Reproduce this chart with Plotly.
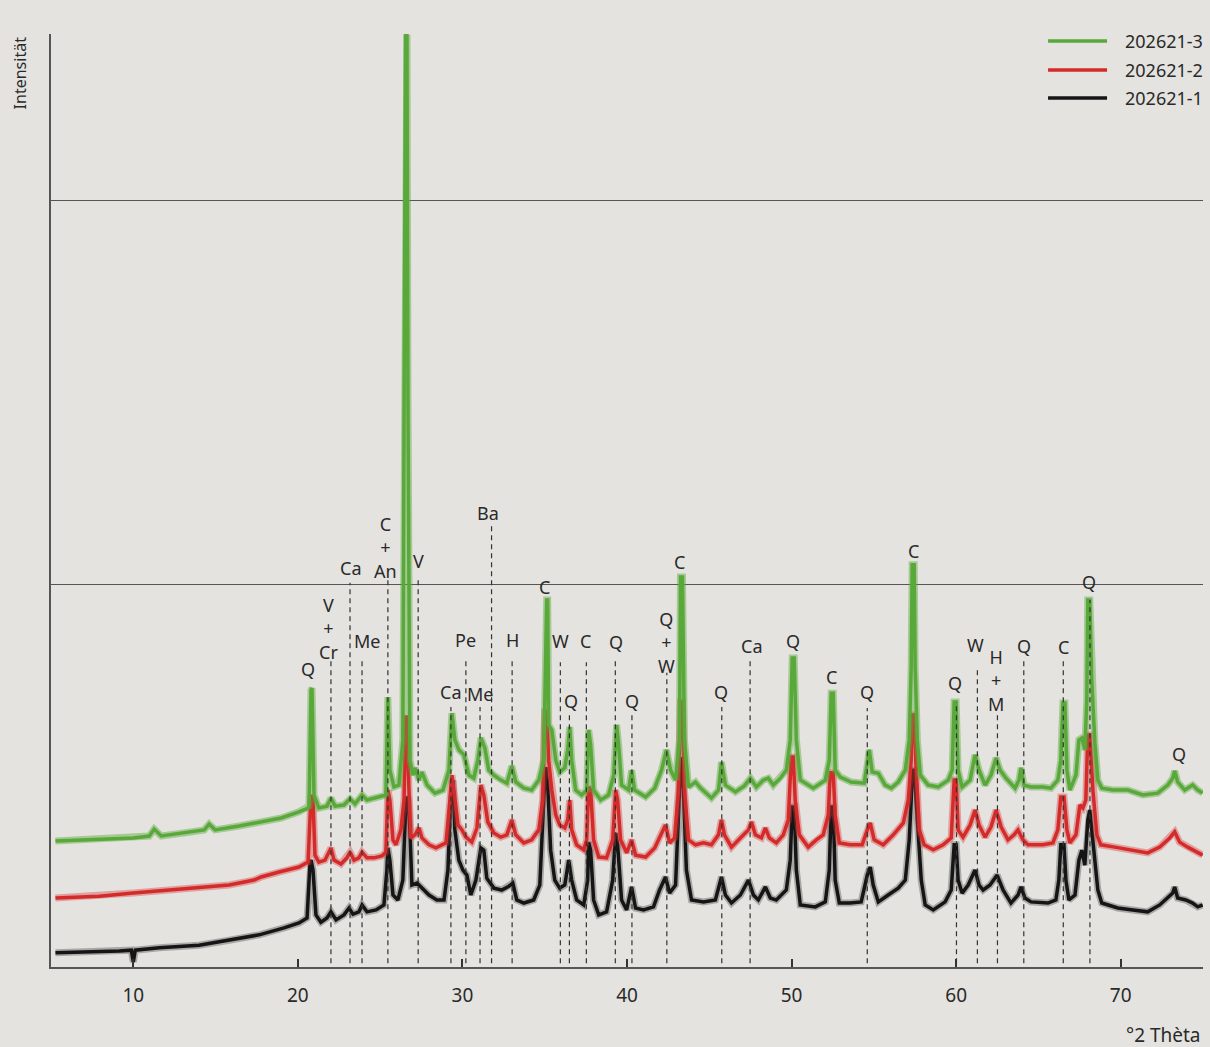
import plotly.graph_objects as go

# ---------------- data (2-theta in degrees, intensity in arbitrary counts) ----------------
two_theta_3 = [
    5.27, 7.94, 10.0, 10.97, 11.27, 11.70, 13.4, 14.31, 14.61, 14.97,
    16.43, 17.77, 18.98, 20.07, 20.62, 20.68, 20.80, 20.86, 20.98, 21.28,
    21.77, 22.01, 22.26, 22.80, 23.17, 23.47, 23.90, 24.20, 24.93, 25.35,
    25.47, 25.59, 25.84, 26.14, 26.38, 26.51, 26.54, 26.63, 26.69, 26.81,
    27.0, 27.12, 27.36, 27.54, 27.85, 28.33, 28.82, 29.18, 29.36, 29.54,
    29.78, 30.09, 30.39, 30.69, 30.94, 31.12, 31.36, 31.60, 31.91, 32.33,
    32.70, 33.0, 33.24, 33.73, 34.21, 34.64, 34.94, 35.12, 35.18, 35.24,
    35.43, 35.67, 35.91, 36.22, 36.40, 36.52, 36.64, 36.88, 37.25, 37.55,
    37.67, 37.79, 37.97, 38.40, 38.88, 39.19, 39.37, 39.49, 39.67, 40.10,
    40.28, 40.46, 41.13, 41.68, 42.10, 42.40, 42.65, 42.95, 43.19, 43.25,
    43.37, 43.49, 43.74, 44.16, 44.47, 45.13, 45.56, 45.74, 45.98, 46.59,
    47.13, 47.50, 47.86, 48.29, 48.59, 48.89, 49.32, 49.68, 49.92, 50.04,
    50.16, 50.29, 50.53, 51.32, 52.05, 52.29, 52.41, 52.53, 52.65, 52.96,
    53.62, 54.41, 54.60, 54.72, 54.90, 55.27, 55.69, 56.06, 56.48, 56.91,
    57.15, 57.27, 57.33, 57.45, 57.51, 57.64, 57.82, 58.30, 58.91, 59.52,
    59.76, 59.88, 60.0, 60.12, 60.36, 60.85, 61.15, 61.39, 61.76, 62.12,
    62.43, 62.67, 63.03, 63.58, 63.82, 63.94, 64.12, 64.55, 65.27, 65.76,
    66.18, 66.36, 66.49, 66.61, 66.73, 66.91, 67.28, 67.46, 67.64, 67.82,
    67.94, 68.0, 68.12, 68.24, 68.43, 68.61, 68.85, 69.52, 70.43, 71.34,
    72.25, 72.86, 73.16, 73.28, 73.46, 73.89, 74.37, 74.68, 74.98,
]
intensity_3 = [
    329, 334, 337, 342, 360, 342, 352, 358, 373, 358,
    368, 379, 389, 405, 415, 420, 723, 728, 449, 415,
    420, 441, 420, 423, 439, 426, 449, 436, 444, 449,
    705, 514, 470, 475, 593, 1742, 2434, 2434, 1480, 540,
    501, 520, 488, 509, 475, 454, 462, 514, 663, 593,
    567, 554, 501, 493, 540, 598, 572, 514, 501, 488,
    480, 525, 483, 467, 462, 488, 540, 958, 958, 632,
    619, 540, 509, 520, 567, 627, 540, 462, 449, 462,
    619, 580, 462, 436, 449, 501, 632, 580, 475, 462,
    514, 462, 444, 467, 514, 567, 514, 488, 593, 1018,
    1018, 593, 470, 483, 467, 441, 462, 535, 475, 457,
    473, 493, 470, 488, 493, 475, 493, 514, 593, 807,
    807, 593, 488, 467, 488, 540, 715, 715, 514, 496,
    483, 480, 527, 567, 509, 506, 475, 467, 483, 514,
    593, 783, 1050, 1050, 783, 593, 501, 475, 470, 488,
    514, 692, 692, 514, 470, 488, 554, 514, 475, 501,
    546, 514, 493, 467, 488, 520, 475, 470, 470, 467,
    488, 540, 689, 689, 514, 462, 501, 593, 598, 567,
    697, 958, 958, 749, 585, 488, 467, 462, 462, 449,
    454, 475, 493, 512, 483, 462, 475, 462, 454,
]

two_theta_2 = [
    5.27, 7.94, 10.0, 12.18, 14.0, 15.83, 17.34, 17.77, 18.86, 20.07,
    20.62, 20.74, 20.80, 20.92, 21.04, 21.28, 21.65, 22.01, 22.20, 22.62,
    22.98, 23.17, 23.41, 23.71, 23.90, 24.20, 24.63, 25.11, 25.35, 25.47,
    25.59, 25.78, 25.96, 26.26, 26.45, 26.57, 26.63, 26.75, 26.87, 27.12,
    27.36, 27.54, 27.97, 28.39, 29.0, 29.24, 29.36, 29.48, 29.73, 29.97,
    30.21, 30.57, 30.88, 31.12, 31.30, 31.54, 31.91, 32.33, 32.70, 33.0,
    33.24, 33.73, 34.21, 34.64, 34.88, 35.0, 35.12, 35.24, 35.43, 35.67,
    35.91, 36.22, 36.40, 36.52, 36.64, 36.94, 37.37, 37.55, 37.67, 37.79,
    37.97, 38.28, 38.76, 39.13, 39.31, 39.43, 39.61, 39.98, 40.28, 40.52,
    41.13, 41.68, 42.10, 42.34, 42.59, 42.89, 43.13, 43.25, 43.37, 43.49,
    43.74, 44.16, 44.65, 45.13, 45.56, 45.74, 45.92, 46.35, 46.89, 47.38,
    47.56, 47.80, 48.17, 48.41, 48.65, 49.07, 49.50, 49.80, 49.98, 50.10,
    50.22, 50.47, 51.01, 51.50, 51.92, 52.23, 52.35, 52.53, 52.65, 52.90,
    53.56, 54.29, 54.60, 54.78, 55.02, 55.57, 56.18, 56.79, 57.09, 57.27,
    57.33, 57.45, 57.57, 57.76, 58.06, 58.61, 59.21, 59.70, 59.88, 60.0,
    60.12, 60.42, 60.85, 61.15, 61.39, 61.76, 62.12, 62.43, 62.73, 63.15,
    63.52, 63.76, 64.06, 64.36, 65.27, 65.88, 66.18, 66.36, 66.55, 66.73,
    66.91, 67.28, 67.52, 67.70, 67.88, 68.0, 68.12, 68.31, 68.55, 68.79,
    69.64, 70.73, 71.64, 72.37, 72.98, 73.28, 73.58, 74.07, 74.68, 74.98,
]
intensity_2 = [
    180, 185, 193, 201, 206, 214, 227, 235, 248, 261,
    274, 436, 449, 436, 292, 274, 279, 311, 279, 269,
    285, 300, 279, 285, 300, 285, 285, 290, 300, 462,
    436, 332, 319, 358, 436, 653, 653, 462, 337, 345,
    363, 337, 319, 311, 324, 436, 501, 462, 371, 358,
    339, 326, 363, 475, 449, 379, 350, 339, 345, 384,
    345, 324, 332, 358, 436, 666, 666, 540, 462, 397,
    371, 363, 384, 436, 358, 319, 306, 332, 470, 462,
    332, 287, 285, 332, 462, 436, 332, 298, 332, 292,
    287, 311, 350, 371, 324, 337, 462, 692, 692, 462,
    332, 319, 324, 319, 345, 384, 345, 313, 337, 358,
    379, 345, 337, 363, 337, 324, 345, 384, 548, 548,
    436, 345, 313, 332, 345, 397, 507, 507, 397, 324,
    319, 319, 358, 376, 332, 319, 345, 376, 436, 540,
    658, 658, 514, 358, 319, 306, 319, 337, 488, 488,
    358, 339, 371, 410, 371, 339, 366, 410, 366, 332,
    345, 358, 332, 319, 319, 324, 358, 444, 444, 358,
    324, 345, 423, 415, 436, 606, 606, 462, 345, 319,
    313, 306, 298, 313, 337, 353, 326, 313, 300, 292,
]

two_theta_1 = [
    5.27, 7.33, 9.15, 9.88, 10.0, 10.12, 11.58, 14.0, 15.83, 17.65,
    19.16, 20.07, 20.56, 20.74, 20.80, 20.92, 21.10, 21.40, 21.77, 22.01,
    22.32, 22.80, 23.11, 23.35, 23.71, 23.90, 24.20, 24.75, 25.23, 25.41,
    25.47, 25.59, 25.78, 26.08, 26.38, 26.57, 26.69, 26.81, 26.93, 27.24,
    27.54, 27.97, 28.45, 28.88, 29.12, 29.30, 29.42, 29.54, 29.78, 30.03,
    30.27, 30.51, 30.82, 31.12, 31.30, 31.48, 31.91, 32.39, 32.82, 33.06,
    33.30, 33.73, 34.33, 34.70, 34.94, 35.06, 35.18, 35.36, 35.61, 35.91,
    36.22, 36.46, 36.64, 36.94, 37.37, 37.61, 37.67, 37.79, 37.97, 38.28,
    38.76, 39.13, 39.31, 39.43, 39.67, 39.98, 40.28, 40.52, 41.0, 41.61,
    41.98, 42.34, 42.59, 42.95, 43.19, 43.31, 43.43, 43.61, 43.92, 44.65,
    45.37, 45.74, 45.98, 46.35, 46.89, 47.38, 47.68, 47.98, 48.41, 48.71,
    49.07, 49.68, 49.92, 50.04, 50.16, 50.29, 50.53, 51.44, 52.05, 52.29,
    52.41, 52.53, 52.65, 52.90, 53.56, 54.23, 54.60, 54.78, 54.96, 55.27,
    55.87, 56.48, 56.91, 57.15, 57.27, 57.33, 57.45, 57.57, 57.70, 57.88,
    58.12, 58.61, 59.33, 59.70, 59.88, 60.0, 60.12, 60.36, 60.73, 61.15,
    61.39, 61.64, 62.06, 62.49, 62.85, 63.33, 63.76, 63.94, 64.18, 64.55,
    65.58, 66.06, 66.24, 66.36, 66.55, 66.67, 66.85, 67.22, 67.46, 67.64,
    67.82, 68.0, 68.12, 68.24, 68.43, 68.61, 68.85, 69.82, 70.73, 71.64,
    72.37, 72.86, 73.16, 73.28, 73.46, 73.95, 74.37, 74.68, 74.98,
]
intensity_1 = [
    37, 39, 42, 44, 13, 44, 50, 57, 70, 84,
    102, 115, 128, 274, 279, 253, 136, 117, 128, 144,
    123, 136, 154, 138, 144, 162, 144, 149, 162, 253,
    311, 279, 188, 175, 227, 436, 444, 358, 214, 219,
    206, 188, 175, 175, 253, 462, 488, 358, 279, 253,
    240, 188, 227, 311, 305, 232, 206, 201, 211, 219,
    175, 167, 175, 214, 436, 522, 475, 305, 227, 206,
    214, 279, 227, 175, 162, 227, 326, 305, 175, 136,
    144, 227, 350, 319, 175, 149, 209, 154, 149, 157,
    201, 235, 193, 214, 462, 548, 462, 253, 175, 170,
    175, 235, 188, 167, 188, 227, 188, 175, 209, 180,
    175, 201, 279, 418, 418, 253, 162, 157, 170, 253,
    418, 418, 227, 167, 167, 170, 240, 261, 214, 170,
    188, 206, 227, 332, 436, 514, 514, 436, 376, 227,
    162, 149, 170, 201, 319, 319, 227, 193, 214, 253,
    214, 201, 214, 240, 201, 167, 188, 209, 180, 170,
    167, 175, 227, 319, 319, 227, 175, 188, 279, 305,
    266, 384, 410, 358, 287, 201, 167, 154, 149, 144,
    162, 180, 193, 209, 180, 175, 167, 157, 162,
]

series_names = ["202621-1", "202621-2", "202621-3"]

# reference (dashed) lines: 2-theta position and top of line (intensity)
ref_line_theta = [22.01, 23.17, 23.90, 25.47, 27.31, 29.30, 30.21, 31.07, 31.77, 33.02,
                  35.95, 36.50, 37.53, 39.29, 40.30, 42.42, 45.76, 47.48, 54.60, 60.02,
                  61.29, 62.51, 64.11, 66.51, 68.13]
ref_line_top = [802, 1003, 807, 1018, 1018, 679, 802, 679, 1154, 802,
                796, 663, 796, 807, 663, 768, 679, 802, 676, 692,
                783, 666, 802, 802, 958]

# phase labels: text, 2-theta, intensity (centre of label)
label_text = ["Q", "V<br>+<br>Cr", "Ca", "Me", "C<br>+<br>An", "V", "Q", "Ca", "Pe", "Me",
              "Ba", "H", "C", "W", "Q", "C", "Q", "Q", "Q<br>+<br>W", "C",
              "Q", "Ca", "Q", "C", "Q", "C", "Q", "W", "H<br>+<br>M", "Q",
              "C", "Q", "Q"]
label_theta = [20.62, 21.89, 23.17, 24.20, 25.35, 27.35, 26.58, 29.30, 30.21, 31.07,
               31.55, 33.06, 35.0, 35.95, 36.58, 37.49, 39.31, 40.28, 42.40, 43.19,
               45.74, 47.55, 50.10, 52.41, 54.60, 57.39, 59.94, 61.15, 62.43, 64.12,
               66.55, 68.07, 73.53]
label_level = [778, 883, 1042, 851, 1094, 1060, 2473, 718, 854, 713,
               1185, 854, 992, 851, 695, 851, 849, 695, 846, 1057,
               718, 838, 851, 757, 718, 1086, 742, 841, 749, 838,
               836, 1005, 556]

# ---------------- figure ----------------
FONT = "Noto Sans, Open Sans, DejaVu Sans, sans-serif"
BG = "#e4e3df"
TXT = "#2a2a2a"

styles = [
    dict(x=two_theta_1, y=intensity_1, name=series_names[0], color="#151515", halo="rgba(95,95,95,0.45)"),
    dict(x=two_theta_2, y=intensity_2, name=series_names[1], color="#d42a2a", halo="rgba(214,60,60,0.40)"),
    dict(x=two_theta_3, y=intensity_3, name=series_names[2], color="#58a83a", halo="rgba(90,168,60,0.45)"),
]

fig = go.Figure()
for s in styles:
    fig.add_trace(go.Scatter(x=s["x"], y=s["y"], mode="lines", showlegend=False,
                             hoverinfo="skip", line=dict(color=s["halo"], width=7)))
    fig.add_trace(go.Scatter(x=s["x"], y=s["y"], mode="lines", name=s["name"],
                             showlegend=False, line=dict(color=s["color"], width=3.5)))

for xv, top in zip(ref_line_theta, ref_line_top):
    fig.add_shape(type="line", xref="x", yref="y", x0=xv, x1=xv, y0=10, y1=top,
                  line=dict(color="#333333", width=1.2, dash="5px,4px"), layer="above")

for txt, xv, yv in zip(label_text, label_theta, label_level):
    fig.add_annotation(x=xv, y=yv, xref="x", yref="y", text=txt, showarrow=False,
                       font=dict(family=FONT, size=18, color=TXT),
                       xanchor="center", yanchor="middle", borderpad=0)

# manual legend (top right), order: 202621-3, 202621-2, 202621-1
legend_rows_y = [0.9925, 0.9614, 0.9314]
for row_y, s in zip(legend_rows_y, styles[::-1]):
    fig.add_shape(type="line", xref="paper", yref="paper", x0=0.8655, x1=0.9167,
                  y0=row_y, y1=row_y, line=dict(color=s["color"], width=3.5))
    fig.add_annotation(text=s["name"], xref="paper", yref="paper", x=0.9306, y=row_y,
                       xanchor="left", yanchor="middle", showarrow=False,
                       font=dict(family=FONT, size=18, color=TXT))

fig.add_annotation(text="Intensität", xref="paper", yref="paper", x=-0.027, y=1.0,
                   textangle=-90, showarrow=False, xanchor="center", yanchor="top",
                   font=dict(family=FONT, size=16, color=TXT))
fig.add_annotation(text="°2 Thèta", xref="paper", yref="paper", x=0.999, y=-0.073,
                   showarrow=False, xanchor="right", yanchor="middle",
                   font=dict(family=FONT, size=19, color=TXT))

fig.update_layout(
    width=1210, height=1047,
    margin=dict(l=51, r=7, t=34, b=80),
    paper_bgcolor=BG, plot_bgcolor=BG,
    font=dict(family=FONT, size=18, color=TXT),
    showlegend=False,
    xaxis=dict(range=[5, 75], tickmode="array", tickvals=[10, 20, 30, 40, 50, 60, 70],
               ticks="inside", ticklen=8, tickwidth=1.5, tickcolor="#333333",
               showline=True, linecolor="#555555", linewidth=1.5, showgrid=False,
               zeroline=False, tickfont=dict(size=19, color=TXT), ticklabelstandoff=10),
    yaxis=dict(range=[0, 2436], tickmode="array", tickvals=[1000, 2000],
               showticklabels=False, ticks="", showgrid=True, gridcolor="#555555",
               gridwidth=1, showline=True, linecolor="#555555", linewidth=1.5,
               zeroline=False),
)

fig.write_html("out.html", config={"displayModeBar": False},
               post_script="document.body.style.margin='0px';"
                           "document.body.style.background='" + BG + "';")
